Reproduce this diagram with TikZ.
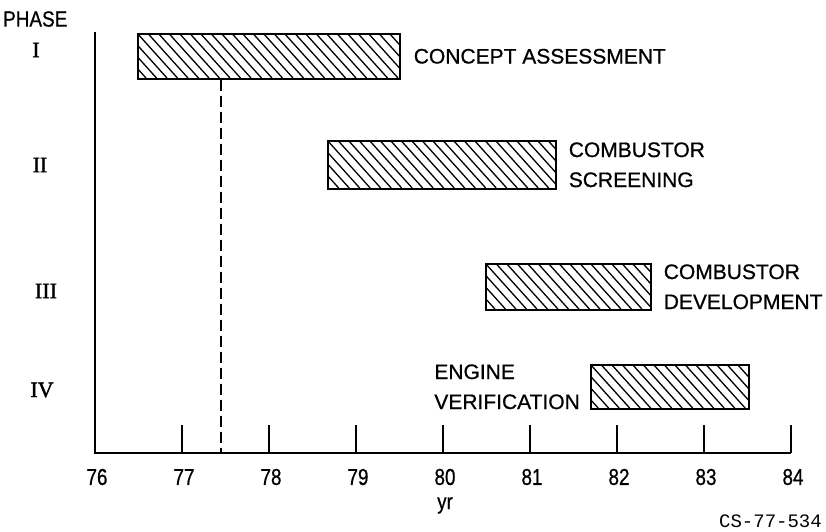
\documentclass[tikz,border=0pt]{standalone}
\usepackage{fontspec}
\setmainfont{Liberation Sans}[BoldFont={Liberation Sans},BoldFeatures={FakeBold=0.7}]
\newfontfamily\romfont{Liberation Serif}[BoldFont={Liberation Serif},BoldFeatures={FakeBold=1.6}]
\newfontfamily\monofont{Liberation Mono}
\newcommand\hatchbar[4]{%
  \begin{scope}
  \clip (#1,#2) rectangle ({#1+#3},{#2+#4});
  \foreach \k in {-6,...,27}{
    \draw[hatchline] ({#1+\k*10.5},#2) -- ({#1+\k*10.5+0.9*#4},{#2+#4});
  }
  \end{scope}}
\begin{document}
\begin{tikzpicture}[x=1pt,y=-1pt,
  bar/.style={draw, line width=1.6pt, inner sep=0pt, anchor=north west},
  hatchline/.style={line width=1.3pt},
  lbl/.style={inner sep=0pt, align=left, font=\bfseries\fontsize{21}{30}\selectfont},
  rom/.style={inner sep=0pt, font=\romfont\bfseries\fontsize{22}{24}\selectfont},
  tlbl/.style={inner sep=0pt, xscale=0.82, font=\bfseries\fontsize{23}{25}\selectfont},
  axisline/.style={line width=2pt},
  tick/.style={line width=1.8pt}]
\useasboundingbox (0,0) rectangle (826,531);
% axes
\coordinate (top) at (95,32);
\coordinate (o) at (95,453);
\coordinate (xend) at (791,453);
\draw[axisline] (top) -- (o) -- (xend);
\foreach \y in {77,...,84}{
  \coordinate (tk\y) at ({95+(\y-76)*87},425);
  \draw[tick] (tk\y) -- (tk\y |- o);
}
\foreach \y in {76,...,84}{
  \node[tlbl] (yl\y) at ({97+(\y-76)*87},477) {\y};
}
\node[inner sep=0pt, anchor=base, xscale=0.85, font=\bfseries\fontsize{22}{24}\selectfont] (yr) at (445,509) {yr};
\node[inner sep=0pt, anchor=east, font=\monofont\fontsize{19}{22}\selectfont] (cs) at (822,521) {CS-77-534};
% phase labels
\node[inner sep=0pt, anchor=west, xscale=0.86, font=\bfseries\fontsize{22}{24}\selectfont] (ph) at (3,19) {PHASE};
\node[rom] (r1) at (36,50) {I};
\node[rom] (r2) at (40,165) {II};
\node[rom] (r3) at (46,291) {III};
\node[rom] (r4) at (42,390) {IV};
% hatching
\hatchbar{137}{33}{262}{45}
\hatchbar{327}{140}{228}{48}
\hatchbar{485}{263}{165}{46}
\hatchbar{590}{364}{158}{44}
% bars
\node[bar, minimum width=262pt, minimum height=45pt] (b1) at (137,33) {};
\node[bar, minimum width=228pt, minimum height=48pt] (b2) at (327,140) {};
\node[bar, minimum width=165pt, minimum height=46pt] (b3) at (485,263) {};
\node[bar, minimum width=158pt, minimum height=44pt] (b4) at (590,364) {};
% dashed line
\coordinate (d) at (221,453);
\draw[line width=1.6pt, dash pattern=on 11pt off 5pt] (d |- b1.south) -- (d);
% labels
\node[lbl, anchor=west] (t1) at ([xshift=13pt]b1.east) {CONCEPT ASSESSMENT};
\node[lbl, anchor=west] (t2) at ([xshift=12pt]b2.east) {COMBUSTOR\\SCREENING};
\node[lbl, anchor=west] (t3) at ([xshift=12pt]b3.east) {COMBUSTOR\\DEVELOPMENT};
\node[lbl, anchor=east] (t4) at ([xshift=-10pt]b4.west) {ENGINE\\VERIFICATION};
\end{tikzpicture}
\end{document}
